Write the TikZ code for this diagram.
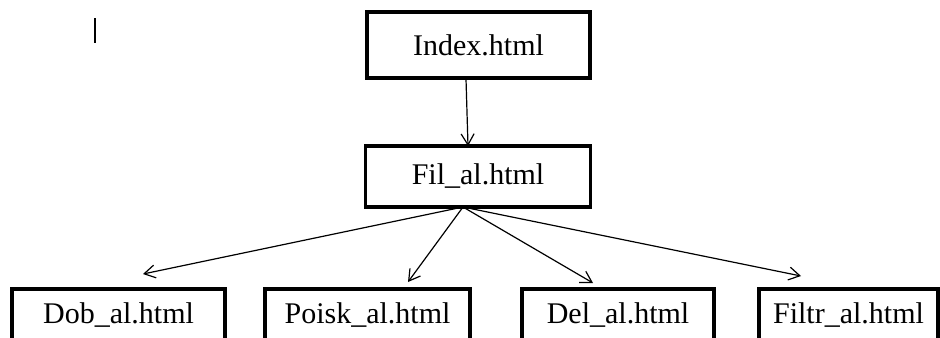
\documentclass[tikz,border=0pt]{standalone}
\usepackage{fontspec}
\setmainfont{Liberation Serif}
\usetikzlibrary{arrows.meta}

\begin{document}
\begin{tikzpicture}[x=0.5pt, y=-0.5pt, line join=miter,
	page/.style={draw, line width=1.8pt, inner sep=0pt, font=\fontsize{15}{18}\selectfont},
	link/.style={line width=0.6pt, -{Straight Barb[length=5.5pt, width=6.5pt]}}]
	
	% --- 1. Рамка рисунка ---
	\useasboundingbox (0,0) rectangle (940,337);
	\clip (0,0) rectangle (940,337);
	
	% --- 2. Страницы ---
	\node[page, minimum width=111.5pt, minimum height=33pt] (index) at (478.5,45) {Index.html};
	\node[page, minimum width=112.5pt, minimum height=30.5pt] (fil) at (478,176.5) {Fil\_al.html};
	
	% нижний ряд (обрезан снизу)
	\node[page, anchor=north, minimum width=106.5pt, minimum height=26pt] (dob) at (118.5,287) {Dob\_al.html};
	\node[page, anchor=north, minimum width=102.5pt, minimum height=26pt] (poisk) at (367.5,287) {Poisk\_al.html};
	\node[page, anchor=north, minimum width=96pt, minimum height=26pt] (del) at (618,287) {Del\_al.html};
	\node[page, anchor=north, minimum width=89.5pt, minimum height=26pt] (filtr) at (848.5,287) {Filtr\_al.html};
	
	% --- 3. Точки для стрелок ---
	\coordinate (top) at (466,79);
	\coordinate (mid) at (468,146);
	\coordinate (fork) at (463,207);
	\coordinate (toDob) at (143,274);
	\coordinate (toPoisk) at (408,282);
	\coordinate (toDel) at (593,283);
	\coordinate (toFiltr) at (801,276);
	
	% --- 4. Стрелки ---
	\draw[link] (top) -- (mid);
	\draw[link] (fork) -- (toDob);
	\draw[link] (fork) -- (toPoisk);
	\draw[link] (fork) -- (toDel);
	\draw[link] (fork) -- (toFiltr);
	
	% --- 5. Курсор слева вверху ---
	\draw[line width=1.2pt] (95,18) -- (95,43);
	
\end{tikzpicture}
\end{document}
